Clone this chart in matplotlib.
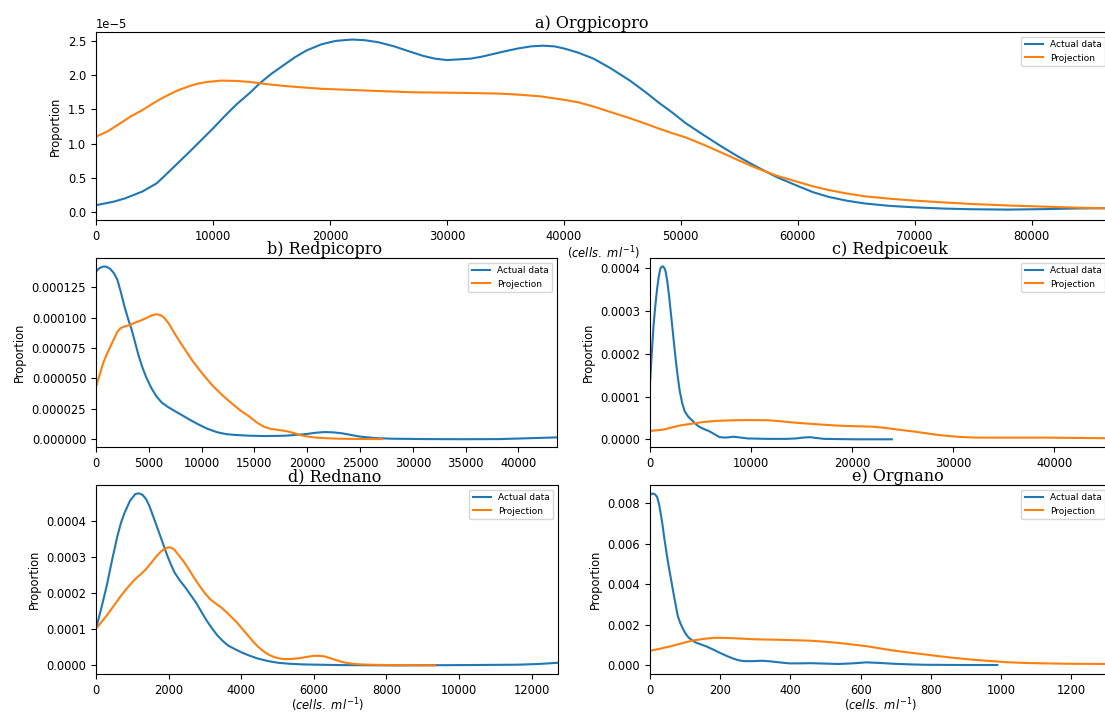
import numpy as np
import matplotlib.pyplot as plt


# values, one pair of x/y lists per curve

# a) Orgpicopro  (proportion in units of 1e-5)
a_act_x = [0, 1500, 2500, 3975, 5200, 6000, 7030, 8000, 9000, 10000, 11000, 12000, 13150,
           14000, 15000, 16000, 17000, 18000, 19270, 20500, 21900, 23000, 24150, 25500,
           26900, 28000, 29000, 30000, 31000, 32000, 33000, 34000, 35000, 36100, 37200,
           38200, 39200, 40000, 41200, 42550, 44000, 45650, 47000, 48100, 49300, 50400,
           51900, 53450, 55000, 56500, 58200, 60000, 61300, 62650, 64200, 65700, 67800,
           70000, 72500, 74900, 78000, 81100, 84150, 86700]
a_act_y = [0.10, 0.15, 0.20, 0.30, 0.42, 0.55, 0.72, 0.88, 1.05, 1.22, 1.40, 1.57, 1.74,
           1.88, 2.02, 2.14, 2.26, 2.36, 2.45, 2.50, 2.52, 2.51, 2.48, 2.42,
           2.34, 2.28, 2.24, 2.22, 2.23, 2.24, 2.27, 2.31, 2.35, 2.39, 2.42,
           2.43, 2.42, 2.39, 2.33, 2.24, 2.10, 1.92, 1.75, 1.60, 1.45, 1.30,
           1.13, 0.96, 0.80, 0.66, 0.51, 0.38, 0.29, 0.22, 0.165, 0.125, 0.09,
           0.068, 0.05, 0.04, 0.035, 0.042, 0.052, 0.055]
a_proj_x = [0, 1000, 1835, 3000, 3975, 5000, 5500, 6300, 7030, 8000, 8560, 9500, 10700,
            12000, 13150, 14500, 16200, 17700, 19270, 22300, 26900, 31500, 34550, 36500,
            38000, 40000, 41300, 42550, 44000, 45650, 47000, 48100, 49300, 50400, 52000,
            53450, 55000, 56500, 58200, 60000, 61300, 62650, 64200, 65700, 67800, 70000,
            72500, 74900, 78000, 81100, 84000, 86700]
a_proj_y = [1.10, 1.18, 1.27, 1.40, 1.49, 1.60, 1.65, 1.72, 1.78, 1.84, 1.87, 1.90, 1.92,
            1.915, 1.90, 1.87, 1.84, 1.82, 1.80, 1.78, 1.75, 1.74, 1.73, 1.71,
            1.69, 1.64, 1.60, 1.54, 1.46, 1.37, 1.29, 1.22, 1.15, 1.09, 0.98,
            0.87, 0.75, 0.64, 0.53, 0.44, 0.375, 0.32, 0.27, 0.23, 0.195, 0.166,
            0.14, 0.117, 0.095, 0.078, 0.063, 0.054]

# b) Redpicopro  (units of 1e-6)
b_act_x = [0, 300, 676, 1000, 1350, 1700, 2030, 2350, 2700, 3040, 3380, 3720, 4060, 4400,
           4730, 5250, 5750, 6250, 6760, 7400, 8110, 8900, 9800, 10600, 11490, 12300,
           13190, 14500, 15890, 17000, 17920, 18900, 19950, 20800, 21640, 22500, 23330,
           24200, 25020, 26500, 28060, 31440, 34820, 38200, 40570, 43650]
b_act_y = [137.9, 140.5, 142.0, 141.8, 140.0, 136.5, 131.0, 121.0, 109.0, 99.0, 90.0, 79.0,
           68.0, 59.0, 51.5, 42.0, 35.0, 30.0, 26.9, 23.5, 20.0, 16.0, 11.8, 8.5, 5.8, 4.3,
           3.6, 3.0, 2.7, 2.8, 3.0, 3.6, 4.4, 5.4, 6.0, 5.7, 4.9,
           3.5, 2.2, 1.0, 0.5, 0.2, 0.1, 0.2, 0.8, 1.6]
b_proj_x = [0, 340, 676, 1000, 1350, 1700, 2030, 2350, 2700, 3200, 3720, 4200, 4730, 5250,
            5750, 6100, 6420, 6900, 7440, 7950, 8450, 9100, 9800, 10500, 11160, 12000,
            12850, 13700, 14540, 15200, 15890, 16500, 17240, 17700, 18250, 18800, 19270,
            19900, 20620, 21800, 22990, 25000, 27050]
b_proj_y = [43.0, 53.0, 62.5, 69.5, 76.0, 82.5, 88.5, 91.5, 92.7, 94.0, 96.0, 97.5, 99.5,
            101.8, 102.8, 102.0, 100.3, 95.0, 87.0, 80.0, 73.5, 65.0, 57.0, 49.5, 43.0, 36.0,
            29.6, 23.5, 18.6, 14.0, 10.4, 8.7, 7.7, 7.2, 6.3, 5.0, 3.6,
            2.5, 1.6, 0.9, 0.5, 0.3, 0.2]

# c) Redpicoeuk  (units of 1e-4)
c_act_x = [0, 172, 344, 516, 688, 860, 1033, 1170, 1308, 1430, 1550, 1720, 1893, 2065,
           2238, 2410, 2582, 2754, 2926, 3180, 3442, 3780, 4131, 4475, 4819, 5330, 5852,
           6370, 6885, 7500, 8262, 9000, 9639, 11700, 13500, 14460, 15100, 15835, 16500,
           17210, 20310, 23920]
c_act_y = [1.31, 2.0, 2.64, 3.1, 3.49, 3.8, 4.0, 4.04, 4.04, 4.0, 3.92, 3.68, 3.34, 2.95,
           2.56, 2.16, 1.78, 1.45, 1.15, 0.85, 0.65, 0.53, 0.45, 0.37, 0.30, 0.24, 0.19,
           0.12, 0.05, 0.04, 0.06, 0.04, 0.02, 0.01, 0.01, 0.02, 0.04, 0.05, 0.03,
           0.01, 0.0, 0.0]
c_proj_x = [0, 1377, 2200, 3098, 4000, 4819, 5700, 6540, 8200, 9983, 11700, 12600, 13425,
            14300, 15146, 16900, 18589, 20300, 22031, 23100, 24096, 25100, 26162, 27200,
            28227, 29300, 30292, 31300, 32358, 35800, 39243, 42685, 45500]
c_proj_y = [0.195, 0.23, 0.28, 0.33, 0.36, 0.39, 0.415, 0.43, 0.445, 0.45, 0.445, 0.43, 0.41,
            0.39, 0.375, 0.345, 0.32, 0.305, 0.295, 0.27, 0.24, 0.21, 0.18, 0.145,
            0.11, 0.082, 0.062, 0.048, 0.039, 0.039, 0.039, 0.031, 0.023]

# d) Rednano  (units of 1e-4)
d_act_x = [0, 150, 295, 440, 590, 690, 787, 935, 1082, 1180, 1279, 1380, 1476, 1620, 1771,
           1870, 1967, 2064, 2164, 2310, 2459, 2600, 2754, 2900, 3049, 3200, 3344, 3490,
           3640, 3830, 4033, 4230, 4427, 4720, 5017, 5350, 5706, 6690, 8166, 10133, 11608,
           12200, 12730]
d_act_y = [1.01, 1.6, 2.2, 2.9, 3.58, 3.95, 4.22, 4.55, 4.74, 4.76, 4.72, 4.60, 4.40, 4.0, 3.58,
           3.30, 3.03, 2.79, 2.57, 2.35, 2.16, 1.96, 1.74, 1.49, 1.24, 1.02, 0.83, 0.68,
           0.55, 0.45, 0.35, 0.27, 0.20, 0.125, 0.073, 0.045, 0.028, 0.01, 0.0, 0.01, 0.02,
           0.04, 0.073]
d_proj_x = [0, 150, 295, 490, 689, 885, 1082, 1230, 1377, 1525, 1672, 1800, 1918, 2000,
            2066, 2160, 2263, 2410, 2558, 2700, 2853, 3000, 3148, 3300, 3443, 3590, 3738,
            3890, 4033, 4180, 4328, 4475, 4623, 4770, 4918, 5065, 5213, 5400, 5607, 5800,
            6001, 6150, 6296, 6440, 6591, 6740, 6886, 7080, 7280, 7700, 8166, 9346]
d_proj_y = [1.01, 1.2, 1.38, 1.65, 1.93, 2.17, 2.39, 2.52, 2.66, 2.84, 3.03, 3.16, 3.24, 3.265,
            3.26, 3.2, 3.07, 2.88, 2.66, 2.43, 2.20, 2.0, 1.83, 1.71, 1.61, 1.48, 1.33,
            1.18, 1.01, 0.84, 0.66, 0.51, 0.385, 0.29, 0.23, 0.19, 0.174, 0.18, 0.20, 0.235,
            0.266, 0.265, 0.25, 0.205, 0.156, 0.11, 0.073, 0.045, 0.028, 0.015, 0.01, 0.0]

# e) Orgnano  (units of 1e-3)
e_act_x = [0, 4, 8, 14, 20, 26, 32, 36, 40, 45, 50, 55, 60, 65, 70, 75, 79, 86, 94, 101,
           109, 119, 129, 144, 159, 179, 199, 218, 238, 253, 268, 293, 318, 343, 368, 397,
           427, 457, 497, 537, 577, 616, 655, 695, 740, 785, 884, 989]
e_act_y = [8.41, 8.47, 8.49, 8.45, 8.33, 7.95, 7.35, 6.9, 6.37, 5.8, 5.22, 4.72, 4.24, 3.75,
           3.27, 2.82, 2.45, 2.1, 1.80, 1.58, 1.39, 1.25, 1.14, 1.04, 0.95, 0.79, 0.62,
           0.47, 0.33, 0.25, 0.21, 0.21, 0.23, 0.20, 0.15, 0.10, 0.10, 0.11, 0.09, 0.07,
           0.10, 0.15, 0.12, 0.08, 0.05, 0.03, 0.02, 0.02]
e_proj_x = [0, 30, 60, 90, 119, 149, 179, 208, 238, 298, 377, 457, 497, 537, 577, 616, 655,
            695, 735, 775, 815, 855, 895, 934, 974, 1013, 1053, 1093, 1192, 1310]
e_proj_y = [0.72, 0.83, 0.95, 1.09, 1.22, 1.30, 1.36, 1.36, 1.34, 1.29, 1.26, 1.22, 1.17, 1.11,
            1.03, 0.95, 0.84, 0.73, 0.64, 0.56, 0.47, 0.39, 0.32, 0.26, 0.21, 0.16, 0.13,
            0.11, 0.08, 0.07]

titles = ['a) Orgpicopro', 'b) Redpicopro', 'c) Redpicoeuk', 'd) Rednano', 'e) Orgnano']
a_xticks = [0, 10000, 20000, 30000, 40000, 50000, 60000, 70000, 80000]
b_xticks = [0, 5000, 10000, 15000, 20000, 25000, 30000, 35000, 40000]
c_xticks = [0, 10000, 20000, 30000, 40000]
d_xticks = [0, 2000, 4000, 6000, 8000, 10000, 12000]
e_xticks = [0, 200, 400, 600, 800, 1000, 1200]


plt.rcParams['font.size'] = 8.3

fig = plt.figure(figsize=(11.05, 7.15), dpi=100)

# axes boxes in pixels (left, top, right, bottom)
W, H = 1105.0, 715.0
def box(l, t, r, b):
    return [l / W, 1 - b / H, (r - l) / W, (b - t) / H]

ax_a = fig.add_axes(box(96, 32, 1110, 220))
ax_b = fig.add_axes(box(96, 258, 557, 447))
ax_c = fig.add_axes(box(650, 258, 1110, 447))
ax_d = fig.add_axes(box(96, 485, 558, 674))
ax_e = fig.add_axes(box(650, 485, 1110, 674))

panels = [
    (ax_a, a_act_x, np.array(a_act_y) * 1e-5, a_proj_x, np.array(a_proj_y) * 1e-5,
     (0, 86700), (-0.117e-5, 2.63e-5), a_xticks, [0, 0.5e-5, 1e-5, 1.5e-5, 2e-5, 2.5e-5], 0.489, 1.5),
    (ax_b, b_act_x, np.array(b_act_y) * 1e-6, b_proj_x, np.array(b_proj_y) * 1e-6,
     (0, 43650), (-6.3e-6, 1.49e-4), b_xticks, [0, 25e-6, 50e-6, 75e-6, 100e-6, 125e-6], 0.495, None),
    (ax_c, c_act_x, np.array(c_act_y) * 1e-4, c_proj_x, np.array(c_proj_y) * 1e-4,
     (0, 45500), (-1.8e-5, 4.24e-4), c_xticks, [0, 1e-4, 2e-4, 3e-4, 4e-4], 0.522, None),
    (ax_d, d_act_x, np.array(d_act_y) * 1e-4, d_proj_x, np.array(d_proj_y) * 1e-4,
     (0, 12730), (-2.37e-5, 4.99e-4), d_xticks, [0, 1e-4, 2e-4, 3e-4, 4e-4], 0.517, 0),
    (ax_e, e_act_x, np.array(e_act_y) * 1e-3, e_proj_x, np.array(e_proj_y) * 1e-3,
     (0, 1310), (-0.000425, 0.00891), e_xticks, [0, 0.002, 0.004, 0.006, 0.008], 0.538, 0),
]

for i, (ax, xa, ya, xp, yp, xl, yl, xt, yt, tx, lpad) in enumerate(panels):
    ax.plot(xa, ya, color='tab:blue', lw=1.5, label='Actual data')
    ax.plot(xp, yp, color='tab:orange', lw=1.5, label='Projection')
    ax.set_xlim(xl)
    ax.set_ylim(yl)
    ax.set_xticks(xt)
    ax.set_yticks(yt)
    ax.set_ylabel('Proportion')
    if lpad is not None:
        ax.set_xlabel(r'$(cells.\ ml^{-1})$', labelpad=lpad)
    ax.set_title(titles[i], family='DejaVu Serif', fontsize=11.5, x=tx, pad=2.5)
    ax.legend(loc='upper right', fontsize=6.5)

fig.savefig('out.png', dpi=100)
